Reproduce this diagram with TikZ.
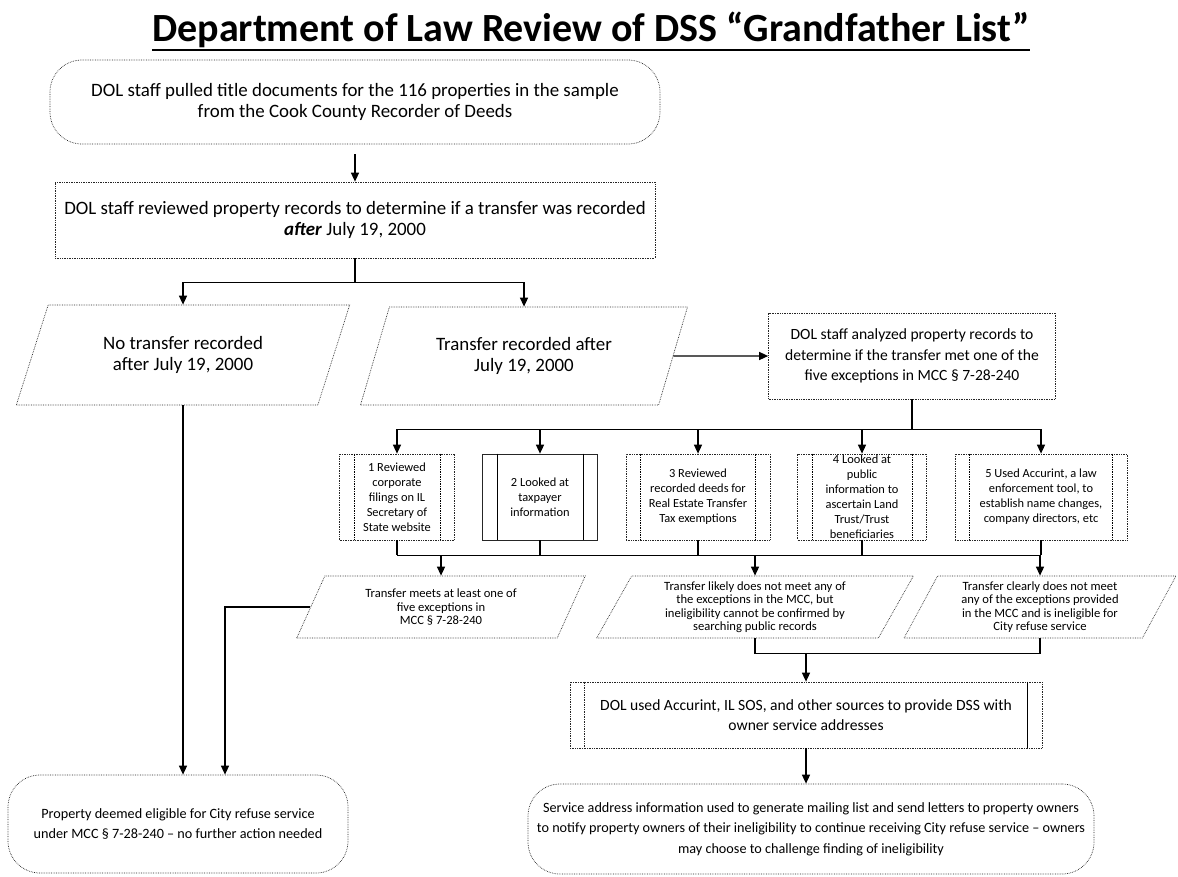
\documentclass[tikz,border=0pt]{standalone}
\usepackage{fontspec}
\setmainfont{Carlito}
\usetikzlibrary{shapes.geometric, arrows.meta}

\tikzset{
	outline/.style={draw=black!85, densely dotted, line width=0.7pt},
	txt/.style={align=center, inner sep=0pt},
	box/.style={outline, txt, rectangle},
	para/.style={outline, txt, trapezium, trapezium left angle=63.4, trapezium right angle=116.6, trapezium stretches=true},
	roundbox/.style={outline, txt, rectangle, rounded corners=32pt},
	link/.style={line width=1.4pt},
	fbig/.style={font=\fontsize{18.9}{21.5}\selectfont},
	fmid/.style={font=\fontsize{15.6}{20.5}\selectfont},
	fsmall/.style={font=\fontsize{12.4}{15}\selectfont},
	fnote/.style={font=\fontsize{12.6}{13.5}\selectfont},
	ffoot/.style={font=\fontsize{14.2}{20.5}\selectfont},
}

\begin{document}
\begin{tikzpicture}[x=1pt, y=-1pt, >={Triangle[length=9pt, width=8pt]}]
	\useasboundingbox (0, 0) rectangle (1178, 876);
	% heading
	\node (title) at (591, 41) [txt, anchor=base, font=\bfseries\fontsize{40}{44}\selectfont] {Department of Law Review of DSS “Grandfather List”};
	\draw[line width=2.8pt] ([yshift=-9pt]title.base west) -- ([yshift=-9pt]title.base east);

	% first two steps
	\node (pull) at (355, 102)		[roundbox, fbig, minimum width=610pt, minimum height=84pt]	{DOL staff pulled title documents for the 116 properties in the sample\\ from the Cook County Recorder of Deeds};
	\node (review) at (355, 220)	[box, fbig, minimum width=600pt, minimum height=76pt]	{DOL staff reviewed property records to determine if a transfer was recorded\\ \textbf{\textit{after}} July 19, 2000};
	\node (none) at (183, 355)		[para, fbig, minimum width=334pt, minimum height=100pt]	{No transfer recorded\\ after July 19, 2000};
	\node (yes) at (524, 356)		[para, fbig, minimum width=328pt, minimum height=98pt]	{Transfer recorded after\\ July 19, 2000};
	\node (analyze) at (912, 356)	[box, fmid, minimum width=287pt, minimum height=86pt]	{DOL staff analyzed property records to\\ determine if the transfer met one of the\\ five exceptions in MCC §~7-28-240};

	% the five checks
	\node (chk1) at (397, 497)		[box, fsmall, minimum width=115pt, minimum height=86pt]	{1 Reviewed\\ corporate\\ filings on IL\\ Secretary of\\ State website};
	\node (chk2) at (540, 497)		[box, solid, fsmall, minimum width=115pt, minimum height=86pt]	{2 Looked at\\ taxpayer\\ information};
	\node (chk3) at (698, 497)		[box, fsmall, minimum width=144pt, minimum height=86pt]	{3 Reviewed\\ recorded deeds for\\ Real Estate Transfer\\ Tax exemptions};
	\node (chk4) at (862, 497)		[box, fsmall, minimum width=129pt, minimum height=86pt]	{4 Looked at\\ public\\ information to\\ ascertain Land\\ Trust/Trust\\ beneficiaries};
	\node (chk5) at (1041, 497)		[box, fsmall, minimum width=172pt, minimum height=86pt]	{5 Used Accurint, a law\\ enforcement tool, to\\ establish name changes,\\ company directors, etc};
	\foreach \n/\s in {chk1/densely dotted, chk2/solid, chk3/densely dotted, chk4/densely dotted, chk5/densely dotted} {
		\draw[line width=0.7pt, \s] ([xshift=15pt]\n.north west) -- ([xshift=15pt]\n.south west);
		\draw[line width=0.7pt, \s] ([xshift=-15pt]\n.north east) -- ([xshift=-15pt]\n.south east);
	}

	% outcomes
	\node (meets) at (441, 607)		[para, fnote, minimum width=289pt, minimum height=62pt]	{Transfer meets at least one of\\ five exceptions in\\ MCC §~7-28-240};
	\node (likely) at (755, 607)	[para, fnote, minimum width=317pt, minimum height=62pt]	{Transfer likely does not meet any of\\ the exceptions in the MCC, but\\ ineligibility cannot be confirmed by\\ searching public records};
	\node (clearly) at (1040, 607)	[para, fnote, minimum width=272pt, minimum height=62pt]	{Transfer clearly does not meet\\ any of the exceptions provided\\ in the MCC and is ineligible for\\ City refuse service};
	\node (addr) at (806, 715)		[box, fmid, minimum width=472pt, minimum height=66pt]	{DOL used Accurint, IL SOS, and other sources to provide DSS with\\ owner service addresses};
	\draw[outline] ([xshift=15pt]addr.north west) -- ([xshift=15pt]addr.south west);
	\draw[line width=0.7pt] ([xshift=-15pt]addr.north east) -- ([xshift=-15pt]addr.south east);

	% end points
	\node (elig) at (178, 824)		[roundbox, ffoot, minimum width=340pt, minimum height=98pt]	{Property deemed eligible for City refuse service\\ under MCC §~7-28-240 – no further action needed};
	\node (notify) at (811, 829)	[roundbox, ffoot, minimum width=566pt, minimum height=90pt]	{Service address information used to generate mailing list and send letters to property owners\\ to notify property owners of their ineligibility to continue receiving City refuse service – owners\\ may choose to challenge finding of ineligibility};

	% connectors
	\draw[link, ->, shorten <=10pt] (pull) -- (review);
	\draw[link] (review.south) -- ++(0, 24) coordinate (split);
	\draw[link, ->] (split) -| (none.north);
	\draw[link, ->] (split) -| (yes.north);
	\draw[link, ->] (yes.east) -- (analyze.west);
	\draw[link] (analyze.south) -- ++(0, 30) coordinate (fan);
	\foreach \i in {1,...,5}
		\draw[link, ->] (fan) -| (chk\i.north);
	\foreach \i in {1,...,5}
		\draw[link] (chk\i.south) -- ++(0, 15);
	\coordinate (bus) at ([yshift=-15pt]chk1.south);
	\draw[link] (bus) -- (bus -| chk5.south);
	\foreach \n in {meets, likely, clearly}
		\draw[link, ->] (\n.north |- bus) -- (\n.north);
	\draw[link, ->] (none.south) -- (none.south |- elig.north);
	\draw[link, ->] (meets.west) -| ([xshift=47pt]elig.north);
	\draw[link] (likely.south) -- ++(0, 15) coordinate (merge) -| (clearly.south);
	\draw[link, ->] (addr.north |- merge) -- (addr.north);
	\draw[link, ->] (addr.south) -- (addr.south |- notify.north);
\end{tikzpicture}
\end{document}
